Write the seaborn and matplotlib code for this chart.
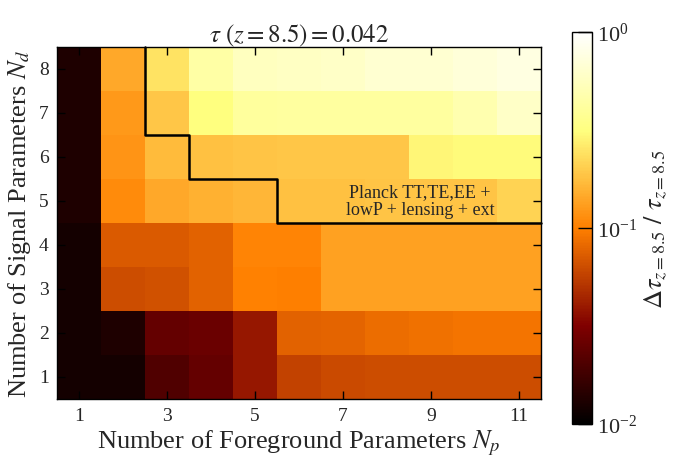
import numpy as np
import matplotlib
matplotlib.use("Agg")
import matplotlib.pyplot as plt
import pandas as pd
import seaborn as sns
from matplotlib.colors import LogNorm

# data: fractional tau error, rows Nd = 1..8, columns Np = 1..11
n_fg = list(range(1, 12))
n_sig = list(range(1, 9))
nd1 = [0.0120, 0.0120, 0.0206, 0.025, 0.039, 0.058, 0.062, 0.063, 0.063, 0.063, 0.063]
nd2 = [0.0120, 0.0133, 0.025, 0.026, 0.039, 0.077, 0.079, 0.085, 0.087, 0.090, 0.090]
nd3 = [0.0120, 0.063, 0.065, 0.077, 0.101, 0.099, 0.135, 0.135, 0.135, 0.135, 0.135]
nd4 = [0.0120, 0.072, 0.072, 0.077, 0.104, 0.104, 0.135, 0.135, 0.135, 0.135, 0.135]
nd5 = [0.0133, 0.110, 0.145, 0.155, 0.165, 0.180, 0.180, 0.185, 0.185, 0.185, 0.210]
nd6 = [0.0133, 0.120, 0.170, 0.180, 0.185, 0.190, 0.190, 0.190, 0.290, 0.300, 0.300]
nd7 = [0.0133, 0.126, 0.190, 0.316, 0.410, 0.420, 0.420, 0.420, 0.420, 0.480, 0.600]
nd8 = [0.0133, 0.145, 0.245, 0.440, 0.560, 0.580, 0.600, 0.650, 0.660, 0.700, 0.760]

# smallest Np inside the Planck contour, per Nd row
planck_min_np = {8: 3, 7: 3, 6: 4, 5: 6}

tau_fid = 0.042
x_ticks = [1, 3, 5, 7, 9, 11]

sns.set_style("ticks")
plt.rcParams["font.family"] = ["Liberation Serif", "DejaVu Serif"]
plt.rcParams["mathtext.fontset"] = "stix"
plt.rcParams["axes.axisbelow"] = False

df = pd.DataFrame([nd1, nd2, nd3, nd4, nd5, nd6, nd7, nd8], index=n_sig, columns=n_fg)
df = df.iloc[::-1]  # highest Nd on top

fig = plt.figure(figsize=(6.75, 4.6), dpi=100)
ax = fig.add_axes([0.0844, 0.1304, 0.717, 0.765])
cax = fig.add_axes([0.847, 0.076, 0.0296, 0.852])

sns.heatmap(
    df,
    ax=ax,
    cbar_ax=cax,
    cmap="afmhot",
    norm=LogNorm(vmin=1e-2, vmax=1.0),
)
ax.set_axisbelow(False)
cax.set_axisbelow(False)

# step contour around the Planck region
n_rows, n_cols = df.shape
pts = []
for nd in sorted(planck_min_np, reverse=True):
    x = planck_min_np[nd] - 1
    y_top = n_sig[-1] - nd
    pts.append((x, y_top))
    pts.append((x, y_top + 1))
pts.append((n_cols, pts[-1][1]))
pts = np.array(pts, dtype=float)
ax.plot(pts[:, 0], pts[:, 1], color="black", lw=1.8, clip_on=False, zorder=5)

ax.text(8.25, 3.48, "Planck TT,TE,EE +\nlowP + lensing + ext",
        ha="center", va="center", fontsize=13, linespacing=1.05)

for sp in ax.spines.values():
    sp.set_visible(True)
    sp.set_linewidth(1.0)
    sp.set_color("black")
    sp.set_zorder(6)

ax.set_xticks([n_fg.index(v) + 0.5 for v in x_ticks])
ax.set_xticklabels([str(v) for v in x_ticks], rotation=0)
ax.set_yticks([n_rows - n_sig.index(v) - 0.5 for v in n_sig])
ax.set_yticklabels([str(v) for v in n_sig], rotation=0)
ax.tick_params(direction="in", top=True, right=True, length=6, width=1,
               labelsize=14, pad=6, color="black")
ax.set_xlabel(r"Number of Foreground Parameters $N_p$", fontsize=19, labelpad=2)
ax.set_ylabel(r"Number of Signal Parameters $N_d$", fontsize=19, labelpad=4)
ax.set_title(r"$\tau\ (z=8.5)=%.3f$" % tau_fid, fontsize=18, pad=4)

cbar = ax.collections[0].colorbar
cbar.outline.set_linewidth(1.0)
cbar.outline.set_edgecolor("black")
cbar.ax.minorticks_off()
cbar.ax.tick_params(direction="in", length=10, width=1, labelsize=16, color="black")
cbar.set_label(r"$\Delta\tau_{z=8.5}\ /\ \tau_{z=8.5}$", fontsize=19, labelpad=4)

fig.savefig("out.png", dpi=100)
